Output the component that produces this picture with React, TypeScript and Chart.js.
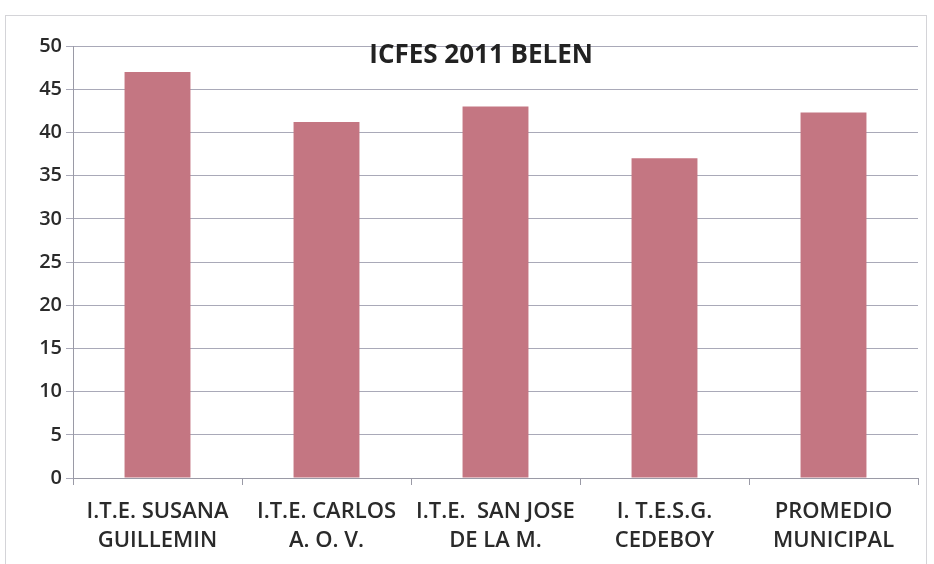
import React, { useEffect, useRef } from "react";
import { Chart, registerables } from "chart.js";

Chart.register(...registerables);

const titleText = "ICFES 2011 BELEN";
const categories: string[][] = [
  ["I.T.E. SUSANA", "GUILLEMIN"],
  ["I.T.E. CARLOS", "A. O. V."],
  ["I.T.E.  SAN JOSE", "DE LA M."],
  ["I. T.E.S.G.", "CEDEBOY"],
  ["PROMEDIO", "MUNICIPAL"],
];
const values: number[] = [47.0, 41.2, 43.0, 37.0, 42.3];
const yMin = 0;
const yMax = 50;
const yStep = 5;

const FONT = "'Open Sans', 'DejaVu Sans', sans-serif";

const titlePlugin = {
  id: "insideTitle",
  afterDraw(chart: any) {
    const { ctx, chartArea } = chart;
    ctx.save();
    ctx.font = `bold 26px ${FONT}`;
    ctx.fillStyle = "#222";
    ctx.textAlign = "center";
    ctx.textBaseline = "middle";
    const x = chartArea.left + (chartArea.right - chartArea.left) * 0.483;
    ctx.fillText(titleText, x, chartArea.top + 10);
    ctx.restore();
  },
};

export default function App() {
  const ref = useRef<HTMLCanvasElement | null>(null);
  useEffect(() => {
    if (!ref.current) return;
    const chart = new Chart(ref.current, {
      type: "bar",
      data: {
        labels: categories,
        datasets: [
          {
            label: titleText,
            data: values,
            backgroundColor: "#c47682",
            borderWidth: 0,
            barPercentage: 0.39,
            categoryPercentage: 1,
          },
        ],
      },
      options: {
        animation: false,
        responsive: false,
        maintainAspectRatio: false,
        layout: { padding: { top: 46, right: 16, left: 0, bottom: 0 } },
        plugins: {
          legend: { display: false },
          title: { display: false },
          tooltip: { enabled: false },
        },
        scales: {
          x: {
            offset: true,
            afterFit: (s: any) => {
              s.height = 86;
            },
            grid: {
              offset: true,
              drawOnChartArea: false,
              drawTicks: true,
              tickLength: 7,
              color: "#9a9aa6",
            },
            border: { display: true, color: "#9a9aa6", width: 1 },
            ticks: {
              color: "#2a2a2a",
              padding: 13,
              maxRotation: 0,
              autoSkip: false,
              font: { family: FONT, size: 22, weight: "600", lineHeight: 1.28 },
            },
          },
          y: {
            min: yMin,
            max: yMax,
            afterFit: (s: any) => {
              s.width = 73;
            },
            grid: {
              color: "#a9a9b8",
              lineWidth: 1,
              drawTicks: true,
              tickLength: 7,
            },
            border: { display: true, color: "#9a9aa6", width: 1 },
            ticks: {
              stepSize: yStep,
              color: "#2a2a2a",
              padding: 4,
              font: { family: FONT, size: 20, weight: "600" },
            },
          },
        },
      },
      plugins: [titlePlugin],
    });
    return () => chart.destroy();
  }, []);

  return (
    <div style={{ position: "fixed", left: 0, top: 0, width: 934, height: 564, background: "#fff" }}>
      <div
        style={{
          position: "absolute",
          left: 5,
          top: 15,
          width: 922,
          height: 560,
          border: "1px solid #d4d4d8",
          boxSizing: "border-box",
        }}
      />
      <canvas ref={ref} width={934} height={564} style={{ position: "absolute", left: 0, top: 0 }} />
    </div>
  );
}
